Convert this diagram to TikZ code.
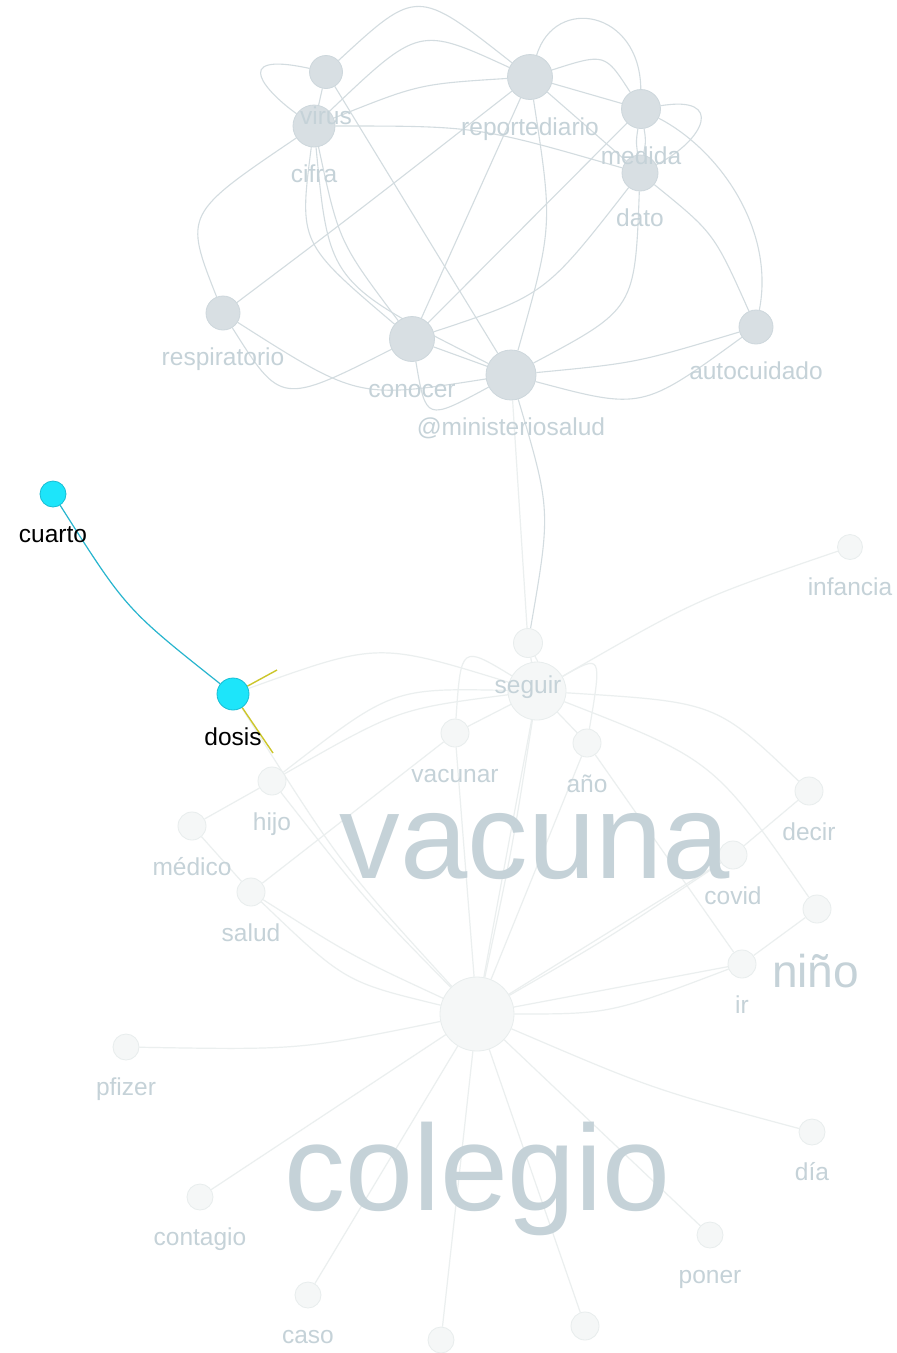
\documentclass[tikz,border=0pt]{standalone}
\usepackage{fontspec}
\setmainfont{Liberation Sans}
\definecolor{cTopFill}{HTML}{D8DFE3}
\definecolor{cTopLine}{HTML}{CDD7DC}
\definecolor{cTopEdge}{HTML}{D3DCE0}
\definecolor{cLbl}{HTML}{C5D2D8}
\definecolor{cLowFill}{HTML}{F5F7F7}
\definecolor{cLowLine}{HTML}{E8EDED}
\definecolor{cLowEdge}{HTML}{EBEFEF}
\definecolor{cHiFill}{HTML}{1DE5FA}
\definecolor{cHiLine}{HTML}{17BDD3}
\definecolor{cHiEdge}{HTML}{27B5CE}
\definecolor{cYelEdge}{HTML}{CCC62A}
\pgfdeclarelayer{edges}
\pgfsetlayers{edges,main}

\begin{document}
\begin{tikzpicture}
            [x=1pt,y=-1pt,label distance=18pt,
             topnode/.style={circle,fill=cTopFill,draw=cTopLine,line width=0.8pt,inner sep=0pt},
             lownode/.style={circle,fill=cLowFill,draw=cLowLine,line width=0.8pt,inner sep=0pt},
             hinode/.style={circle,fill=cHiFill,draw=cHiLine,line width=0.8pt,inner sep=0pt},
             lbl/.style={text=cLbl,font=\fontsize{24.5}{28}\selectfont,inner sep=0pt,text height=17pt,text depth=5pt},
             hilbl/.style={lbl,text=black},
             bigword/.style={text=cLbl,anchor=base,inner sep=0pt},
             tedge/.style={draw=cTopEdge,line width=1.1pt},
             ledge/.style={draw=cLowEdge,line width=1.2pt},
             hiedge/.style={draw=cHiEdge,line width=1.2pt},
             yedge/.style={draw=cYelEdge,line width=1.4pt}]
            \useasboundingbox (0,0) rectangle (897,1353);

            % upper cluster
            \node[topnode,minimum size=42pt,label={[lbl]below:cifra}] (cifra) at (314,126) {};
            \node[topnode,minimum size=33pt,label={[lbl]below:virus}] (virus) at (326,72) {};
            \node[topnode,minimum size=45pt,label={[lbl]below:reportediario}] (reporte) at (530,77) {};
            \node[topnode,minimum size=36pt,label={[lbl]below:dato}] (dato) at (640,173) {};
            \node[topnode,minimum size=39pt,label={[lbl]below:medida}] (medida) at (641,109) {};
            \node[topnode,minimum size=34pt,label={[lbl]below:respiratorio}] (resp) at (223,313) {};
            \node[topnode,minimum size=45pt,label={[lbl]below:conocer}] (conocer) at (412,339) {};
            \node[topnode,minimum size=50pt,label={[lbl]below:@ministeriosalud}] (minsalud) at (511,375) {};
            \node[topnode,minimum size=34pt,label={[lbl]below:autocuidado}] (autoc) at (756,327) {};

            % selected words
            \node[hinode,minimum size=26pt,label={[hilbl]below:cuarto}] (cuarto) at (53,494) {};
            \node[hinode,minimum size=32pt,label={[hilbl]below:dosis}] (dosis) at (233,694) {};

            % lower cluster
            \node[lownode,minimum size=25pt,label={[lbl]below:infancia}] (infancia) at (850,547) {};
            \node[lownode,minimum size=58pt] (vacuna) at (537,691) {};
            \node[lownode,minimum size=29pt,label={[lbl]below:seguir}] (seguir) at (528,643) {};
            \node[lownode,minimum size=28pt,label={[lbl]below:vacunar}] (vacunar) at (455,733) {};
            \node[lownode,minimum size=28pt,label={[lbl]below:año}] (anio) at (587,743) {};
            \node[lownode,minimum size=28pt,label={[lbl]below:hijo}] (hijo) at (272,781) {};
            \node[lownode,minimum size=28pt,label={[lbl]below:médico}] (medico) at (192,826) {};
            \node[lownode,minimum size=28pt,label={[lbl]below:salud}] (salud) at (251,892) {};
            \node[lownode,minimum size=28pt,label={[lbl]below:decir}] (decir) at (809,791) {};
            \node[lownode,minimum size=28pt,label={[lbl]below:covid}] (covid) at (733,855) {};
            \node[lownode,minimum size=28pt] (nino) at (817,909) {};
            \node[lownode,minimum size=28pt,label={[lbl]below:ir}] (ir) at (742,964) {};
            \node[lownode,minimum size=74pt] (colegio) at (477,1014) {};
            \node[lownode,minimum size=26pt,label={[lbl]below:pfizer}] (pfizer) at (126,1047) {};
            \node[lownode,minimum size=26pt,label={[lbl]below:día}] (dia) at (812,1132) {};
            \node[lownode,minimum size=26pt,label={[lbl]below:contagio}] (contagio) at (200,1197) {};
            \node[lownode,minimum size=26pt,label={[lbl]below:poner}] (poner) at (710,1235) {};
            \node[lownode,minimum size=26pt,label={[lbl]below:caso}] (caso) at (308,1295) {};
            \node[lownode,minimum size=26pt] (bajoa) at (441,1340) {};
            \node[lownode,minimum size=28pt] (bajob) at (585,1326) {};

            % big words
            \node[bigword,font=\fontsize{121}{130}\selectfont] (wvacuna) at (535,878) {vacuna};
            \node[bigword,font=\fontsize{122}{130}\selectfont] (wcolegio) at (477.5,1210) {colegio};
            \node[bigword,font=\fontsize{46}{50}\selectfont] (wnino) at (815.5,987) {niño};

            \coordinate (dosisv) at (277,670);
            \coordinate (dosisc) at (273,753);

            \begin{pgfonlayer}{edges}
            \fill[white] (0,0) rectangle (897,1353);
            % lower cluster edges
            \draw[ledge] (seguir) -- (vacuna);
            \draw[ledge] (seguir) .. controls (538,662) .. (vacuna);
            \draw[ledge] (minsalud) -- (seguir);
            \draw[ledge] (vacunar) -- (vacuna);
            \draw[ledge] (vacunar) .. controls (461,645) .. (vacuna);
            \draw[ledge] (anio) -- (vacuna);
            \draw[ledge] (anio) .. controls (602,654) .. (vacuna);
            \draw[ledge] (vacuna) .. controls (695,600) .. (infancia);
            \draw[ledge] (dosis) .. controls (378,642) .. (vacuna);
            \draw[ledge] (dosis) .. controls (341,865) .. (colegio);
            \draw[ledge] (hijo) .. controls (392,688) .. (vacuna);
            \draw[ledge] (hijo) .. controls (398,709) .. (vacuna);
            \draw[ledge] (hijo) .. controls (366,901) .. (colegio);
            \draw[ledge] (medico) -- (hijo);
            \draw[ledge] (medico) -- (salud);
            \draw[ledge] (salud) -- (vacunar);
            \draw[ledge] (salud) .. controls (352,956) .. (colegio);
            \draw[ledge] (salud) .. controls (345,982) .. (colegio);
            \draw[ledge] (vacunar) -- (colegio);
            \draw[ledge] (anio) -- (colegio);
            \draw[ledge] (anio) -- (ir);
            \draw[ledge] (vacuna) -- (colegio);
            \draw[ledge] (vacuna) .. controls (512,850) .. (colegio);
            \draw[ledge] (vacuna) .. controls (716,702) .. (decir);
            \draw[ledge] (vacuna) .. controls (714,760) .. (nino);
            \draw[ledge] (decir) -- (covid);
            \draw[ledge] (nino) -- (ir);
            \draw[ledge] (colegio) -- (covid);
            \draw[ledge] (colegio) .. controls (607,939) .. (covid);
            \draw[ledge] (colegio) -- (ir);
            \draw[ledge] (colegio) .. controls (610,1014) .. (ir);
            \draw[ledge] (colegio) .. controls (652,1089) .. (dia);
            \draw[ledge] (colegio) -- (poner);
            \draw[ledge] (colegio) -- (bajob);
            \draw[ledge] (colegio) -- (bajoa);
            \draw[ledge] (colegio) -- (caso);
            \draw[ledge] (colegio) -- (contagio);
            \draw[ledge] (colegio) .. controls (300,1050) .. (pfizer);

            % upper cluster edges
            \draw[tedge] (virus) .. controls (417,-12) .. (reporte);
            \draw[tedge] (cifra) .. controls (419,26) .. (reporte);
            \draw[tedge] (virus) .. controls (225,50) and (270,95) .. (cifra);
            \draw[tedge] (virus) -- (cifra);
            \draw[tedge] (cifra) .. controls (419,84) .. (reporte);
            \draw[tedge] (cifra) .. controls (477,126) .. (dato);
            \draw[tedge] (virus) -- (minsalud);
            \draw[tedge] (cifra) .. controls (184,214) .. (resp);
            \draw[tedge] (cifra) .. controls (299,243) .. (conocer);
            \draw[tedge] (cifra) .. controls (339,242) .. (conocer);
            \draw[tedge] (cifra) .. controls (329,283) .. (minsalud);
            \draw[tedge] (reporte) .. controls (357,212) .. (resp);
            \draw[tedge] (reporte) -- (conocer);
            \draw[tedge] (reporte) .. controls (553,226) .. (minsalud);
            \draw[tedge] (reporte) .. controls (555,-5) and (640,10) .. (medida);
            \draw[tedge] (reporte) .. controls (605,53) .. (medida);
            \draw[tedge] (reporte) -- (medida);
            \draw[tedge] (reporte) -- (dato);
            \draw[tedge] (medida) .. controls (725,95) and (705,140) .. (dato);
            \draw[tedge] (medida) .. controls (636,141) .. (dato);
            \draw[tedge] (medida) .. controls (646,141) .. (dato);
            \draw[tedge] (medida) .. controls (720,150) and (775,230) .. (autoc);
            \draw[tedge] (dato) .. controls (714,233) .. (autoc);
            \draw[tedge] (medida) -- (conocer);
            \draw[tedge] (dato) .. controls (545,295) .. (conocer);
            \draw[tedge] (dato) .. controls (635,309) .. (minsalud);
            \draw[tedge] (conocer) -- (minsalud);
            \draw[tedge] (resp) .. controls (281,405) .. (conocer);
            \draw[tedge] (resp) .. controls (358,399) .. (minsalud);
            \draw[tedge] (conocer) .. controls (426,421) .. (minsalud);
            \draw[tedge] (minsalud) .. controls (636,363) .. (autoc);
            \draw[tedge] (minsalud) .. controls (642,410) .. (autoc);
            \draw[tedge] (minsalud) .. controls (551,510) .. (seguir);

            % selected edges
            \draw[hiedge] (cuarto) .. controls (126,609) .. (dosis);
            \draw[yedge] (dosis) -- (dosisv);
            \draw[yedge] (dosis) -- (dosisc);
            \end{pgfonlayer}

        \end{tikzpicture}
\end{document}
